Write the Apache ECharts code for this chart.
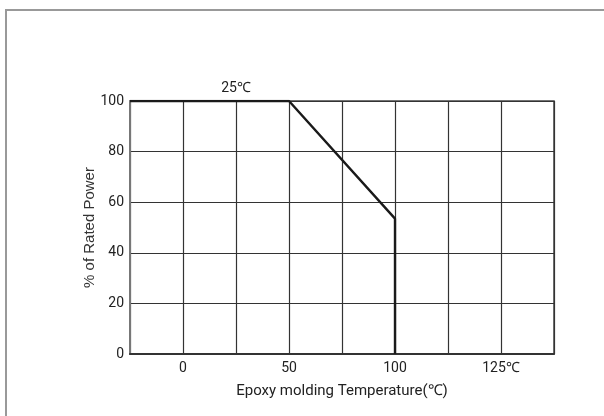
<!DOCTYPE html>
<html>
<head>
<meta charset="utf-8">
<script src="https://cdn.jsdelivr.net/npm/echarts@6/dist/echarts.min.js"></script>
<style>html,body{margin:0;padding:0;background:#fff}#c{width:604px;height:416px}</style>
</head>
<body>
<div id="c"></div>
<script>
// Derating curve data
const temps = [-25, 50, 100, 100];
const power = [100, 100, 53.5, 0];
// Bottom axis tick labels (value -> label)
const xTickValues = [0, 50, 100, 150];
const xTickLabels = ['0', '50', '100', '125℃'];
// Top annotation label
const topTickValues = [25];
const topTickLabels = ['25℃'];
const yTicks = [0, 20, 40, 60, 80, 100];

const chart = echarts.init(document.getElementById('c'), null, {renderer: 'canvas'});
const font = 'Roboto, "Liberation Sans", sans-serif';
chart.setOption({
  animation: false,
  backgroundColor: '#fff',
  graphic: [{
    type: 'rect', shape: {x: 6, y: 10, width: 700, height: 500},
    style: {fill: 'none', stroke: '#999', lineWidth: 2}, silent: true
  }],
  grid: {left: 130, right: 50, top: 101, bottom: 62, show: true, borderColor: '#444', borderWidth: 1.5, backgroundColor: 'transparent'},
  xAxis: [{
    type: 'value', min: -25, max: 175, interval: 25, position: 'bottom',
    name: 'Epoxy molding Temperature(℃)', nameLocation: 'middle', nameGap: 30,
    nameTextStyle: {fontFamily: font, fontSize: 15, color: '#222'},
    axisLine: {show: true, onZero: false, lineStyle: {color: '#333', width: 2}},
    axisTick: {show: false},
    axisLabel: {
      fontFamily: font, fontSize: 14, color: '#222', margin: 7,
      formatter: v => { const i = xTickValues.indexOf(v); return i >= 0 ? xTickLabels[i] : ''; }
    },
    splitLine: {show: true, lineStyle: {color: '#333', width: 1.2}}
  }, {
    type: 'value', min: -25, max: 175, interval: 25, position: 'top',
    axisLine: {show: false}, axisTick: {show: false}, splitLine: {show: false},
    axisLabel: {
      fontFamily: font, fontSize: 14, color: '#222', margin: 6,
      formatter: v => { const i = topTickValues.indexOf(v); return i >= 0 ? topTickLabels[i] : ''; }
    }
  }],
  yAxis: {
    type: 'value', min: 0, max: 100, interval: 20,
    name: '% of Rated Power', nameLocation: 'middle', nameGap: 33, nameMoveOverlap: false,
    nameTextStyle: {fontFamily: '"Liberation Sans", Arial, sans-serif', fontSize: 15, color: '#333'},
    axisLine: {show: true, onZero: false, lineStyle: {color: '#777', width: 2}},
    axisTick: {show: false},
    axisLabel: {fontFamily: font, fontSize: 14, color: '#222', margin: 6,
      formatter: v => yTicks.includes(v) ? String(v) : ''},
    splitLine: {show: true, lineStyle: {color: '#333', width: 1.2}}
  },
  series: [{
    type: 'line', xAxisIndex: 0, symbol: 'none',
    data: temps.map((t, i) => [t, power[i]]),
    lineStyle: {color: '#1a1a1a', width: 2.4},
    z: 5
  }]
});
</script>
</body>
</html>
